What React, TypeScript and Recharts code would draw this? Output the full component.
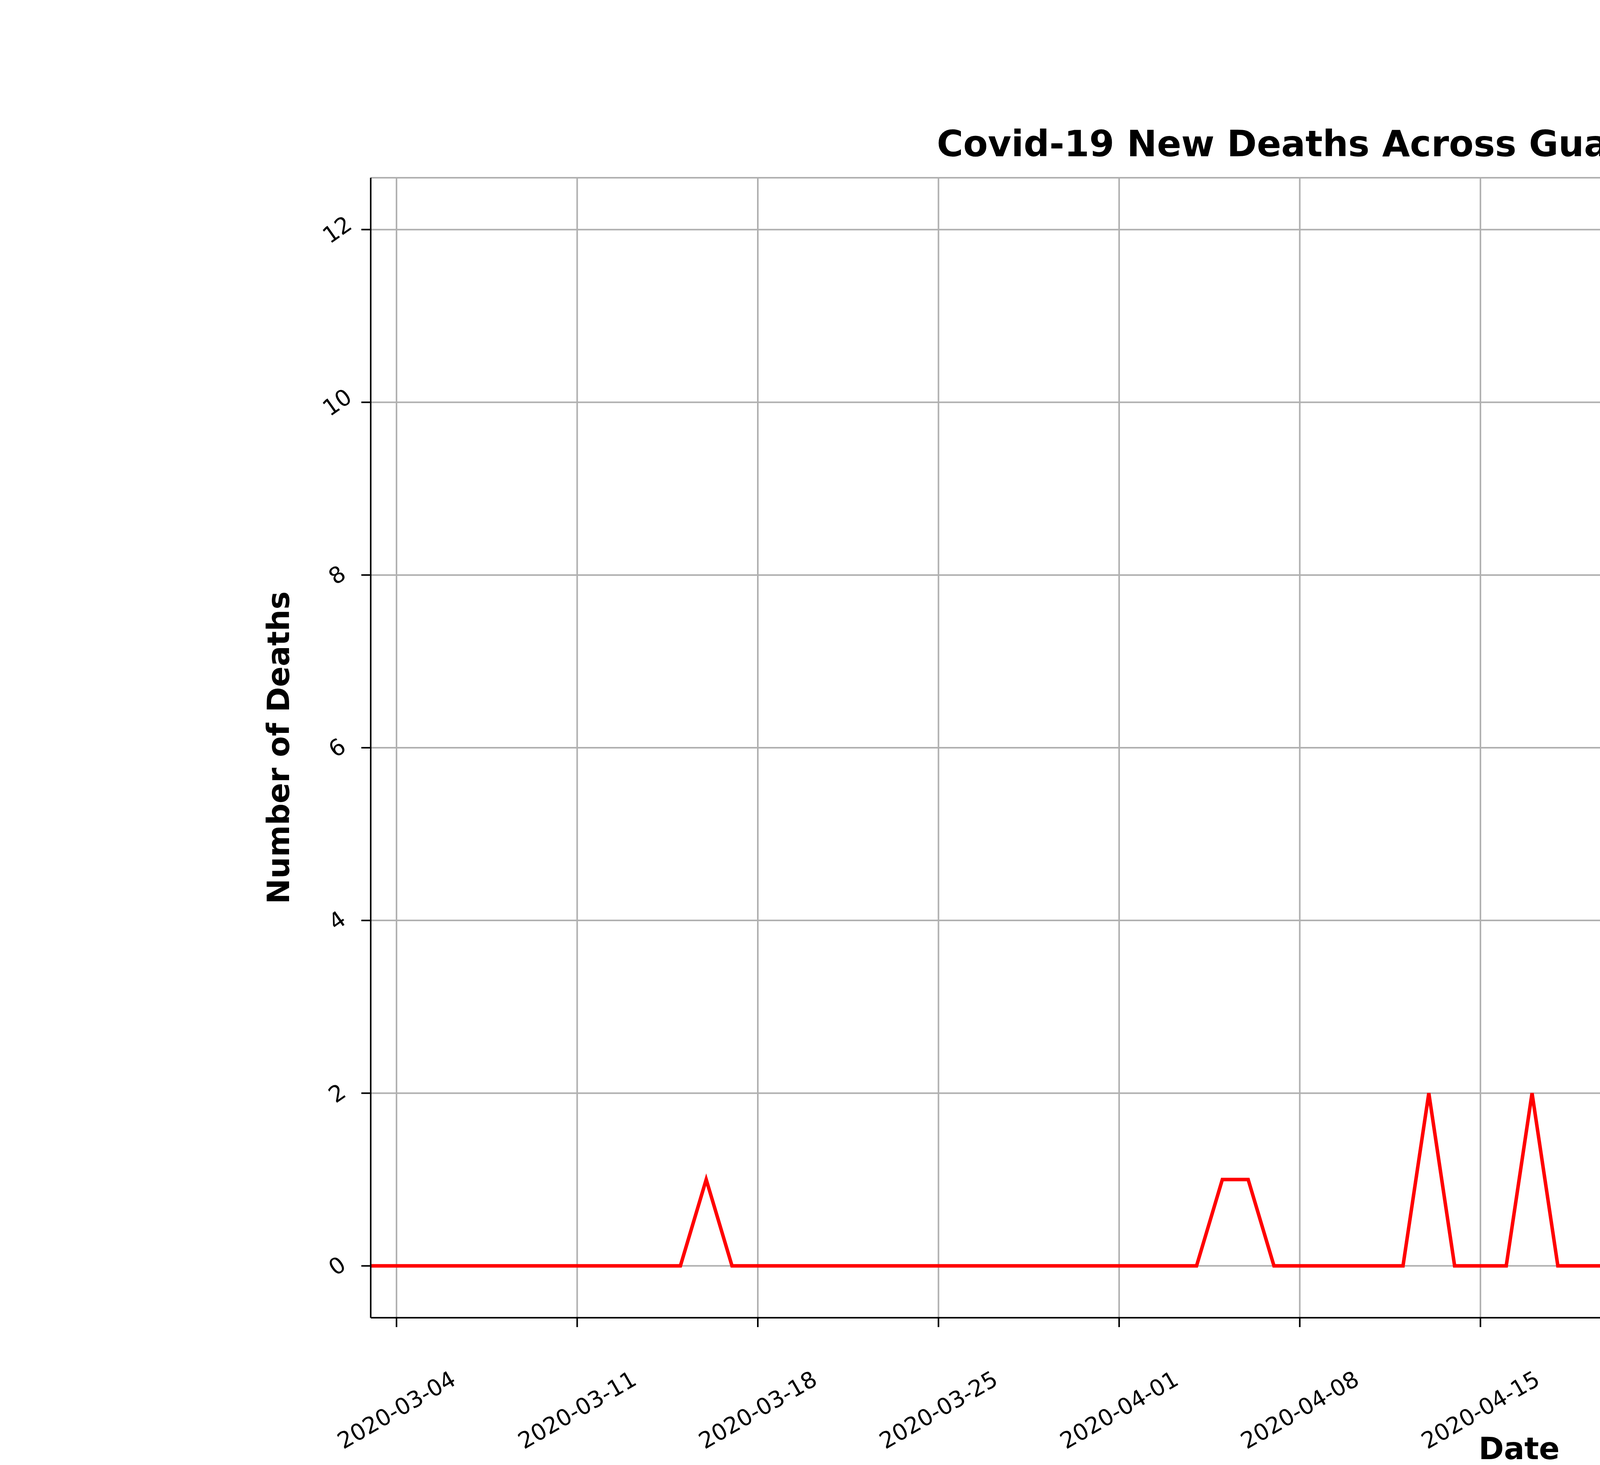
import React from "react";
import { LineChart, Line, XAxis, YAxis, CartesianGrid, ReferenceDot } from "recharts";

const startDate = "2020-03-03";
const newDeaths = [
  0,0,0,0,0,0,0,0,0,0,0,0,0,1,0,0,0,0,0,0,
  0,0,0,0,0,0,0,0,0,0,0,0,0,1,1,0,0,0,0,0,
  0,2,0,0,0,2,0,0,0,0,1,2,1,0,2,2,0,1,0,0,
  0,1,0,2,0,2,2,1,0,2,0,1,2,0,1,3,2,3,5,2,
  3,3,4,3,1,4,5,12,10,12,
];
const xTickIdx = [1,8,15,22,29,36,43,50,57,64,71,78,85];
const yTicks = [0,2,4,6,8,10,12];

function dayLabel(i: number) {
  const d = new Date(startDate + "T00:00:00Z");
  d.setUTCDate(d.getUTCDate() + i);
  return d.toISOString().slice(0, 10);
}
const data = newDeaths.map((v, i) => ({ day: i, date: dayLabel(i), deaths: v }));
const last = data[data.length - 1];

const FONT = "DejaVu Sans, sans-serif";

const XTick = (p: any) => {
  const { x, y, payload } = p;
  return (
    <g transform={`translate(${x},${y + 210}) rotate(-30)`}>
      <text textAnchor="middle" dominantBaseline="central" fontSize={58} fontFamily={FONT} fill="#000">
        {dayLabel(payload.value)}
      </text>
    </g>
  );
};
const YTick = (p: any) => {
  const { x, y, payload } = p;
  return (
    <g transform={`translate(${x - 60},${y}) rotate(-35)`}>
      <text textAnchor="middle" dominantBaseline="central" fontSize={58} fontFamily={FONT} fill="#000">
        {payload.value}
      </text>
    </g>
  );
};

const Annot = (p: any) => {
  const { cx, cy } = p;
  const sx = cx + 140, sy = cy - 210;
  const ang = Math.atan2(cy - sy, cx - sx);
  const tx = cx - 12 * Math.cos(ang), ty = cy - 12 * Math.sin(ang);
  const hl = 45, hw = 22;
  const bx = tx - hl * Math.cos(ang), by = ty - hl * Math.sin(ang);
  const px = -Math.sin(ang) * hw, py = Math.cos(ang) * hw;
  return (
    <g>
      <line x1={sx} y1={sy} x2={bx} y2={by} stroke="#000" strokeWidth={10} />
      <polygon points={`${tx},${ty} ${bx + px},${by + py} ${bx - px},${by - py}`} fill="#000" />
      <text x={cx - 70} y={cy - 340} fontSize={66} fontFamily={FONT} fill="#000">
        <tspan x={cx - 70}>{`${last.date}: ${last.deaths}`}</tspan>
        <tspan x={cx - 70} dy={78}>New Deaths</tspan>
      </text>
    </g>
  );
};

export default function App() {
  return (
    <div style={{ position: "absolute", left: 0, top: 0, width: 7500, height: 3750, background: "#fff" }}>
      <LineChart width={7500} height={3750} data={data}
        margin={{ top: 455, left: 699, right: 671, bottom: 127 }}>
        <CartesianGrid stroke="#b0b0b0" strokeWidth={4} />
        <XAxis dataKey="day" type="number" domain={[0, 89]} ticks={xTickIdx} interval={0}
          height={250} tick={<XTick />} axisLine={{ stroke: "#000", strokeWidth: 4 }}
          tickLine={{ stroke: "#000", strokeWidth: 4 }} tickSize={24} allowDataOverflow />
        <XAxis xAxisId="top" orientation="top" dataKey="day" type="number" domain={[0, 89]}
          height={0} tick={false} tickLine={false} axisLine={{ stroke: "#000", strokeWidth: 4 }} />
        <YAxis type="number" domain={[-0.6, 12.6]} ticks={yTicks} width={250} tick={<YTick />}
          axisLine={{ stroke: "#000", strokeWidth: 4 }} tickLine={{ stroke: "#000", strokeWidth: 4 }}
          tickSize={24} allowDataOverflow />
        <YAxis yAxisId="right" orientation="right" domain={[-0.6, 12.6]} width={0} tick={false}
          tickLine={false} axisLine={{ stroke: "#000", strokeWidth: 4 }} />
        <Line dataKey="deaths" stroke="#ff0000" strokeWidth={9} dot={false} isAnimationActive={false} />
        <ReferenceDot x={last.day} y={last.deaths} r={0} shape={<Annot />} ifOverflow="visible" />
        <text x={3889} y={400} textAnchor="middle" fontSize={92} fontWeight="bold" fontFamily={FONT}>
          Covid-19 New Deaths Across Guatemala as of 2020-05-31
        </text>
        <text x={3889} y={3735} textAnchor="middle" fontSize={78} fontWeight="bold" fontFamily={FONT}>
          Date
        </text>
        <text transform="translate(740,1914) rotate(-90)" textAnchor="middle" fontSize={78}
          fontWeight="bold" fontFamily={FONT}>
          Number of Deaths
        </text>
      </LineChart>
    </div>
  );
}
